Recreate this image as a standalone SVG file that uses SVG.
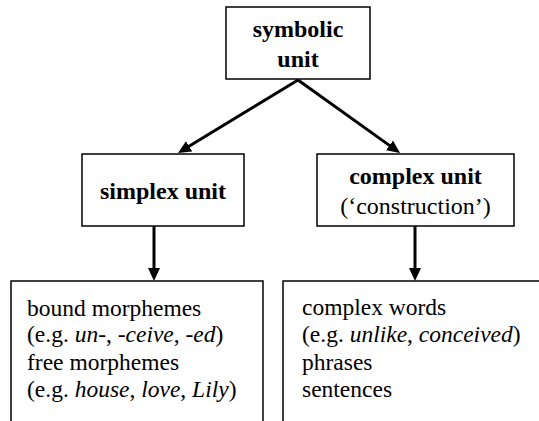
<svg xmlns="http://www.w3.org/2000/svg" width="539" height="421" viewBox="0 0 539 421">
<style>
.box{fill:#fff;stroke:#000;stroke-width:1.5}
.conn line{stroke:#000;stroke-width:3}
</style>
<defs>
<marker id="ah" markerUnits="userSpaceOnUse" markerWidth="13" markerHeight="12" refX="2" refY="6" orient="auto">
<path d="M0,0 L13,6 L0,12 z" fill="#000"/>
</marker>
</defs>
<rect width="539" height="421" fill="#fff"/>
<g font-family="Liberation Serif, Times New Roman, serif" font-size="24" fill="#000">
<g id="symbolic">
<rect class="box" x="226" y="7" width="144" height="72"/>
<text x="298" y="37" font-weight="bold" text-anchor="middle">symbolic</text>
<text x="298" y="67" font-weight="bold" text-anchor="middle">unit</text>
</g>
<g id="simplex">
<rect class="box" x="82" y="154" width="162" height="72"/>
<text x="163" y="199" font-weight="bold" text-anchor="middle">simplex unit</text>
</g>
<g id="complex">
<rect class="box" x="317" y="154" width="197" height="72"/>
<text x="415.5" y="184" font-weight="bold" text-anchor="middle">complex unit</text>
<text x="415.5" y="214" text-anchor="middle">(‘construction’)</text>
</g>
<g id="simplex-list" font-size="23.5">
<rect class="box" x="11" y="281" width="252" height="150"/>
<text x="27" y="316">bound morphemes</text>
<text x="27" y="342">(e.g. <tspan font-style="italic">un-</tspan>, <tspan font-style="italic">-ceive</tspan>, <tspan font-style="italic">-ed</tspan>)</text>
<text x="27" y="370">free morphemes</text>
<text x="27" y="397">(e.g. <tspan font-style="italic">house</tspan>, <tspan font-style="italic">love</tspan>, <tspan font-style="italic">Lily</tspan>)</text>
</g>
<g id="complex-list" font-size="23.5">
<rect class="box" x="283" y="281" width="270" height="150"/>
<text x="302" y="315">complex words</text>
<text x="302" y="342">(e.g. <tspan font-style="italic">unlike</tspan>, <tspan font-style="italic">conceived</tspan>)</text>
<text x="302" y="370">phrases</text>
<text x="302" y="397">sentences</text>
</g>
</g>
<g id="connectors" class="conn">
<line x1="298" y1="80" x2="187.4" y2="147.3" marker-end="url(#ah)"/>
<line x1="298" y1="80" x2="391.1" y2="146.6" marker-end="url(#ah)"/>
<line x1="154" y1="226" x2="154" y2="270" marker-end="url(#ah)"/>
<line x1="415" y1="226" x2="415" y2="270" marker-end="url(#ah)"/>
</g>
</svg>
